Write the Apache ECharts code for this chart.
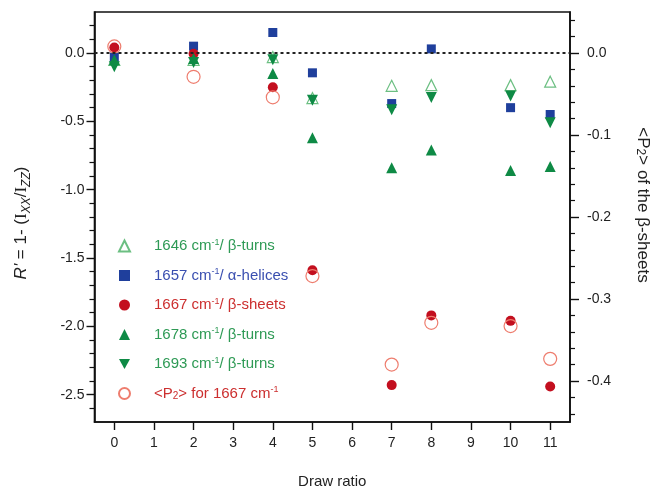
<!DOCTYPE html>
<html><head><meta charset="utf-8">
<script src="https://cdn.jsdelivr.net/npm/echarts@6/dist/echarts.min.js"></script>
<style>html,body{margin:0;padding:0;background:#fff}#c{width:653px;height:491px}</style>
</head><body><div id="c"></div>
<script>
const drawRatio = [0, 2, 4, 5, 7, 8, 10, 11];
const r1646 = [-0.05, -0.05, -0.03, -0.33, -0.24, -0.235, -0.235, -0.21];
const r1657 = [-0.03, 0.05, 0.15, -0.145, -0.37, 0.03, -0.40, -0.45];
const r1667 = [0.04, -0.005, -0.25, -1.59, -2.43, -1.92, -1.96, -2.44];
const r1678 = [-0.05, -0.04, -0.15, -0.62, -0.84, -0.71, -0.86, -0.83];
const r1693 = [-0.10, -0.07, -0.05, -0.345, -0.415, -0.325, -0.315, -0.51];
const p2_1667 = [0.008, -0.029, -0.054, -0.272, -0.38, -0.329, -0.333, -0.373];

const xTicks = [0, 1, 2, 3, 4, 5, 6, 7, 8, 9, 10, 11];
const leftMajor = [-2.5, -2.0, -1.5, -1.0, -0.5, 0.0];
const leftMinor = [-2.6, -2.4, -2.3, -2.2, -2.1, -1.9, -1.8, -1.7, -1.6, -1.4, -1.3, -1.2, -1.1,
  -0.9, -0.8, -0.7, -0.6, -0.4, -0.3, -0.2, -0.1, 0.1, 0.2];
const rightMajor = [-0.4, -0.3, -0.2, -0.1, 0.0];
const rightMinor = [-0.44, -0.42, -0.38, -0.36, -0.34, -0.32, -0.28, -0.26, -0.24, -0.22,
  -0.18, -0.16, -0.14, -0.12, -0.08, -0.06, -0.04, -0.02, 0.02, 0.04];

const names = ['1646', '1657', '1667', '1678', '1693', 'P2'];
const legendTexts = {
  '1646': '{sp|}{a|1646 cm}{sup|-1}{a|/ \u03b2-turns}',
  '1657': '{sp|}{a|1657 cm}{sup|-1}{a|/ \u03b1-helices}',
  '1667': '{sp|}{a|1667 cm}{sup|-1}{a|/ \u03b2-sheets}',
  '1678': '{sp|}{a|1678 cm}{sup|-1}{a|/ \u03b2-turns}',
  '1693': '{sp|}{a|1693 cm}{sup|-1}{a|/ \u03b2-turns}',
  'P2': '{sp|}{a|<P}{sub|2}{a|> for 1667 cm}{sup|-1}'
};
const textColors = {'1646':'#2e9a55','1657':'#3a4fb0','1667':'#cc2f2f','1678':'#2e9a55','1693':'#2e9a55','P2':'#cc2f2f'};

const FONT = 'Liberation Sans, Arial, sans-serif';
const DOWN_TRI = 'path://M0,0L10,0L5,9Z';
const pair = (ys) => drawRatio.map((x, i) => [x, ys[i]]);

const chart = echarts.init(document.getElementById('c'), null, {renderer: 'canvas'});
const axisLine = {show: true, onZero: false, lineStyle: {color: '#111', width: 1.6}};
const labelStyle = {color: '#222', fontSize: 14, fontFamily: FONT};

chart.setOption({
  animation: false,
  backgroundColor: '#fff',
  grid: {left: 94.5, right: 83, top: 12, bottom: 69, show: true, borderColor: '#111', borderWidth: 1.6,
    backgroundColor: 'transparent', containLabel: false, outerBoundsMode: 'none'},
  legend: {
    orient: 'vertical', left: 113, top: 233, itemWidth: 11, itemHeight: 11, itemGap: 14,
    selectedMode: false,
    data: names.map(n => ({name: n, textStyle: {color: textColors[n]}})),
    formatter: n => legendTexts[n],
    textStyle: {
      fontFamily: FONT, fontSize: 15,
      rich: {
        sp: {width: 19},
        a: {fontSize: 15, lineHeight: 16, fontFamily: FONT},
        sup: {fontSize: 9, lineHeight: 8, verticalAlign: 'top', fontFamily: FONT},
        sub: {fontSize: 10, lineHeight: 8, verticalAlign: 'bottom', fontFamily: FONT}
      }
    }
  },
  xAxis: [{
    type: 'value', min: -0.5, max: 11.5,
    axisLine: axisLine, splitLine: {show: false},
    axisTick: {show: true, inside: false, length: 8, lineStyle: {color: '#111', width: 1.4}, customValues: xTicks},
    axisLabel: {...labelStyle, margin: 14, customValues: xTicks, formatter: v => String(v)},
    name: 'Draw ratio', nameLocation: 'middle', nameGap: 52,
    nameTextStyle: {color: '#222', fontSize: 15, fontFamily: FONT}
  }],
  yAxis: [{
    type: 'value', position: 'left', min: -2.7, max: 0.3,
    axisLine: axisLine, splitLine: {show: false},
    axisTick: {show: true, length: 8, lineStyle: {color: '#111', width: 1.4}, customValues: leftMajor},
    axisLabel: {...labelStyle, margin: 10, customValues: leftMajor, formatter: v => v.toFixed(1)},
    name: "{i|R'} = 1- ({s|I}{sub|XX}/{s|I}{sub|ZZ})", nameLocation: 'middle', nameGap: 62,
    nameTextStyle: {
      color: '#222', fontSize: 17, fontFamily: FONT, padding: [0, 12, 0, 0],
      rich: {
        i: {fontStyle: 'italic', fontSize: 17, lineHeight: 22, fontFamily: FONT, color: '#222'},
        s: {fontSize: 17, lineHeight: 22, fontFamily: 'Liberation Serif, serif', color: '#222'},
        sub: {fontSize: 12, lineHeight: 10, verticalAlign: 'bottom', fontStyle: 'italic', fontFamily: FONT, color: '#222'}
      }
    }
  }, {
    type: 'value', position: 'right', min: -0.45, max: 0.05,
    axisLine: axisLine, splitLine: {show: false},
    axisTick: {show: true, length: 9, lineStyle: {color: '#111', width: 1.4}, customValues: rightMajor},
    axisLabel: {...labelStyle, margin: 17, customValues: rightMajor, formatter: v => v.toFixed(1)},
    name: '<P{sub|2}> of the \u03b2-sheets', nameLocation: 'middle', nameGap: 64, nameRotate: -90,
    nameTextStyle: {
      color: '#222', fontSize: 17, fontFamily: FONT, padding: [0, 24, 0, 0],
      rich: {sub: {fontSize: 12, lineHeight: 10, verticalAlign: 'bottom', fontFamily: FONT, color: '#222'}}
    }
  }, {
    type: 'value', position: 'left', min: -2.7, max: 0.3,
    axisLine: {show: false, onZero: false}, splitLine: {show: false},
    axisTick: {show: true, length: 5, lineStyle: {color: '#111', width: 1.2}, customValues: leftMinor},
    axisLabel: {show: false}
  }, {
    type: 'value', position: 'right', min: -0.45, max: 0.05,
    axisLine: {show: false, onZero: false}, splitLine: {show: false},
    axisTick: {show: true, length: 5, lineStyle: {color: '#111', width: 1.2}, customValues: rightMinor},
    axisLabel: {show: false}
  }],
  series: [
    {name: '1646', type: 'scatter', yAxisIndex: 0, data: pair(r1646), symbol: 'triangle', symbolSize: 11,
     itemStyle: {color: 'rgba(255,255,255,0)', borderColor: '#6cbf82', borderWidth: 1.2, opacity: 1}},
    {name: '1657', type: 'scatter', yAxisIndex: 0, data: pair(r1657), symbol: 'rect', symbolSize: 9,
     itemStyle: {color: '#1f3f9c', opacity: 1}},
    {name: '1667', type: 'scatter', yAxisIndex: 0, data: pair(r1667), symbol: 'circle', symbolSize: 10,
     itemStyle: {color: '#c30f1f', opacity: 1},
     markLine: {silent: true, symbol: 'none', label: {show: false},
       lineStyle: {color: '#222', type: [3, 3], width: 2}, data: [{yAxis: 0}]}},
    {name: '1678', type: 'scatter', yAxisIndex: 0, data: pair(r1678), symbol: 'triangle', symbolSize: 11,
     itemStyle: {color: '#0e8a45', opacity: 1}},
    {name: '1693', type: 'scatter', yAxisIndex: 0, data: pair(r1693), symbol: DOWN_TRI, symbolSize: 11,
     itemStyle: {color: '#0e8a45', opacity: 1}},
    {name: 'P2', type: 'scatter', yAxisIndex: 1, data: pair(p2_1667), symbol: 'circle', symbolSize: 13,
     itemStyle: {color: 'rgba(255,255,255,0)', borderColor: '#ee7d6e', borderWidth: 1.2, opacity: 1}}
  ]
});
</script></body></html>
